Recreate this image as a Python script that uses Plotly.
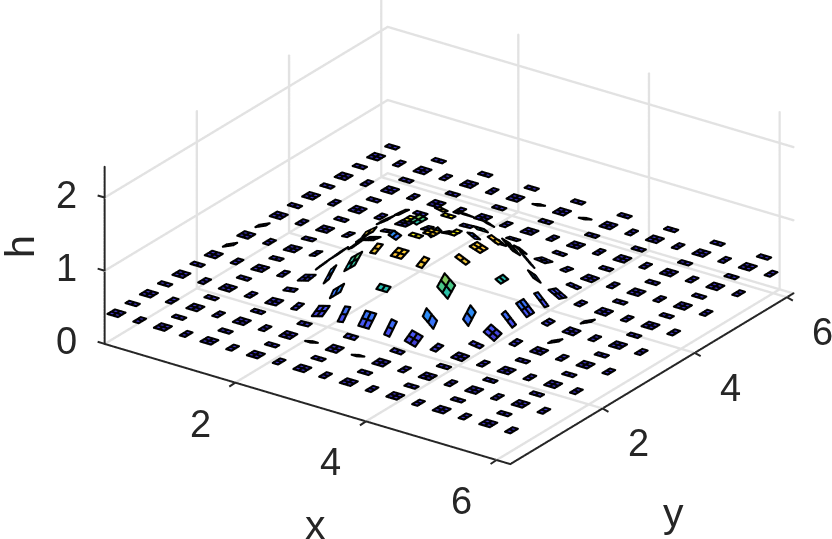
import numpy as np
import plotly.graph_objects as go

# heights: row = index along x, column = index along y
height_table = [
 [.41]*18,
 [.41]*18,
 [.41]*18,
 [.41,.41,.41,.41,.41,.41,.43,.44,.44,.44,.43,.41,.41,.41,.41,.41,.41,.41],
 [.41,.41,.41,.41,.41,.44,.47,.52,.54,.52,.47,.44,.41,.41,.41,.41,.41,.41],
 [.41,.41,.41,.41,.44,.50,.61,.78,.84,.78,.61,.50,.44,.41,.41,.41,.41,.41],
 [.41,.41,.41,.43,.47,.61,.88,1.15,1.18,1.15,.92,.61,.47,.43,.41,.41,.41,.41],
 [.41,.41,.41,.44,.52,.78,1.15,1.27,1.29,1.27,1.15,.78,.52,.44,.41,.41,.41,.41],
 [.41,.41,.41,.44,.54,.84,1.18,1.29,1.20,1.29,1.18,.84,.54,.44,.41,.41,.41,.41],
 [.41,.41,.41,.44,.52,.78,1.15,1.27,1.29,1.27,1.15,.78,.52,.44,.41,.41,.41,.41],
 [.41,.41,.41,.43,.47,.61,.92,1.15,1.18,1.15,.92,.61,.47,.43,.41,.41,.41,.41],
 [.41,.41,.41,.41,.44,.50,.61,.78,.84,.78,.61,.50,.44,.41,.41,.41,.41,.41],
 [.41,.41,.41,.41,.41,.44,.47,.52,.54,.52,.47,.44,.41,.41,.41,.41,.41,.41],
 [.41,.41,.41,.41,.41,.41,.43,.44,.44,.44,.43,.41,.41,.41,.41,.41,.41,.41],
 [.41]*18,
 [.41]*18,
 [.41]*18,
 [.41]*18,
]
# local slopes read from the shape of patches: (ix, iy, dz/dx, dz/dy)
tilted_patches = [(7,2,0,-.4),(9,2,0,-.4),(7,16,0,-.4),(9,16,0,-.4),
                  (14,7,.4,0),(14,9,.4,0),(0,7,.4,0),(0,9,.4,0),
                  (8,4,0,.9),(7,4,.15,.9),(9,4,-.15,.9),
                  (12,8,-.9,0),(12,7,-.9,.15),(12,9,-.9,-.15),
                  (10,5,-.8,1.0),(11,6,-.9,.8),(6,5,.8,1.0),(5,6,1.0,.8),
                  (6,4,.25,.5),(10,4,-.25,.5),(12,6,-.5,.25),(12,10,-.5,-.25),
                  (4,8,.9,0),(4,7,.9,.15),(4,9,.9,-.15),
                  (8,12,0,-.9),(7,12,.15,-.9),(9,12,-.15,-.9),
                  (11,10,-1.0,-.8),(10,11,-.8,-1.0),(6,11,.8,-1.0),(5,10,1.0,-.8),
                  (8,5,0,.5),(11,8,-.5,0),
                  (8,6,0,.3),(10,8,-.3,0),(7,6,.1,.4),(9,6,-.1,.4),(10,7,-.4,.1),(10,9,-.4,-.1)]
x_ticks = [2,4,6]
y_ticks = [2,4,6]
z_ticks = [0,1,2]
x_range = [0,6.21]
y_range = [0,6.14]
z_range = [0,2.42]
parula = [[0,"rgb(62,38,168)"],[1/7,"rgb(72,82,244)"],[2/7,"rgb(46,135,247)"],[3/7,"rgb(18,177,214)"],
          [4/7,"rgb(55,200,151)"],[5/7,"rgb(171,199,57)"],[6/7,"rgb(254,195,56)"],[1,"rgb(249,251,21)"]]
STEP_X, STEP_Y, X0, Y0, W = 0.3557, 0.352, 0.11, 0.10, 0.08

H = np.array(height_table, float)
gx, gy = np.gradient(H, STEP_X, STEP_Y)
tilts = {(a,b):(c,d) for a,b,c,d in tilted_patches}

vx,vy,vz,ii,jj,kk,inten=[],[],[],[],[],[],[]
lx,ly,lz=[],[],[]
NUDGE=np.array([.52,-.742,.4226])*.02
def add_edge(p,q,sp=.012):
    p=np.array(p);q=np.array(q)
    n=max(2,int(np.ceil(np.linalg.norm(p-q)/sp))+1)
    for t in np.linspace(0,1,n):
        m=p+(q-p)*t+NUDGE
        lx.append(m[0]);ly.append(m[1]);lz.append(m[2])
def offs(i):
    return [-W,0,W] if i%2==0 else [-W/2,W/2]
for ix in range(18):
    for iy in range(18):
        if ix%2 and iy%2: continue
        xc=X0+ix*STEP_X; yc=Y0+iy*STEP_Y
        sx,sy=(gx[ix,iy],gy[ix,iy])
        if (ix,iy) in tilts: sx,sy=tilts[(ix,iy)]
        ox,oy=offs(ix),offs(iy)
        def node(a,b): return (xc+a, yc+b, H[ix,iy]+sx*a+sy*b)
        base=len(vx)
        for a in ox:
            for b in oy:
                p=node(a,b); vx.append(p[0]); vy.append(p[1]); vz.append(p[2])
        n=len(oy)
        for p in range(len(ox)-1):
            for q in range(n-1):
                a0=base+p*n+q; a1=a0+n; a2=a1+1; a3=a0+1
                val=(vz[a0]+vz[a1]+vz[a2]+vz[a3])/4
                ii+= [a0,a0]; jj+=[a1,a2]; kk+=[a2,a3]; inten+=[val,val]
        for a in ox:
            add_edge(node(a,oy[0]),node(a,oy[-1]))
        for b in oy:
            add_edge(node(ox[0],b),node(ox[-1],b))

xa,xb=x_range; ya,yb=y_range; za,zb=z_range
def dense(segs,sp=.012):
    X,Y,Z=[],[],[]
    for s in segs:
        for p,q in zip(s[:-1],s[1:]):
            p=np.array(p,float);q=np.array(q,float)
            n=int(np.ceil(np.linalg.norm(p-q)/sp))+1
            for t in np.linspace(0,1,n):
                m=p+(q-p)*t
                X.append(m[0]);Y.append(m[1]);Z.append(m[2])
    return X,Y,Z
gridseg=[]
for t in x_ticks:
    gridseg.append([(t,ya,za),(t,yb,za),(t,yb,zb)])
for t in y_ticks:
    gridseg.append([(xb,t,za),(xa,t,za),(xa,t,zb)])
for t in z_ticks:
    gridseg.append([(xa,ya,t),(xa,yb,t),(xb,yb,t)])
gX,gY,gZ=dense(gridseg)
aX,aY,aZ=dense([[(xa,ya,za),(xb,ya,za),(xb,yb,za)],[(xa,ya,za),(xa,ya,zb)]])

fig=go.Figure()
fig.add_trace(go.Scatter3d(x=gX,y=gY,z=gZ,mode="markers",marker=dict(color="rgb(226,226,226)",size=1.4,line=dict(width=0)),hoverinfo="skip",showlegend=False))
fig.add_trace(go.Scatter3d(x=aX,y=aY,z=aZ,mode="markers",marker=dict(color="rgb(38,38,38)",size=1.2,line=dict(width=0)),hoverinfo="skip",showlegend=False))
fig.add_trace(go.Mesh3d(x=vx,y=vy,z=vz,i=ii,j=jj,k=kk,intensity=inten,intensitymode="cell",
    colorscale=parula,cmin=.36,cmax=1.30,showscale=False,flatshading=True,
    lighting=dict(ambient=1,diffuse=0,specular=0,roughness=1,fresnel=0),hoverinfo="skip"))
fig.add_trace(go.Scatter3d(x=lx,y=ly,z=lz,mode="markers",marker=dict(color="black",size=1.3,line=dict(width=0)),hoverinfo="skip",showlegend=False))

TXT="rgb(38,38,38)"
F=dict(family="Liberation Sans",size=38,color=TXT)
ann=[]
def tick(x,y,z,ax,ay):
    return dict(x=x,y=y,z=z,text=" ",showarrow=True,arrowhead=0,arrowwidth=2,arrowcolor=TXT,standoff=0,ax=ax,ay=ay)
for t in x_ticks:
    ann.append(dict(x=t,y=0,z=0,text=str(t),showarrow=False,font=F,xshift=-35,yshift=-41))
    ann.append(tick(t,0,0,-9,6))
for t in y_ticks:
    ann.append(dict(x=x_range[1],y=t,z=0,text=str(t),showarrow=False,font=F,xshift=36,yshift=-35))
    ann.append(tick(x_range[1],t,0,9,5))
for t in z_ticks:
    ann.append(dict(x=0,y=0,z=t,text=str(t),showarrow=False,font=F,xshift=-38,yshift=3))
    ann.append(tick(0,0,t,-10,-3))
axis=dict(showbackground=False,showgrid=False,showline=False,ticks="",
          showticklabels=False,title=dict(text=""),zeroline=False,showspikes=False)
r=2.0
cx,cy,cz=-.0659,-.1192,-.1335
TF=dict(family="Liberation Sans",size=41,color=TXT)
fig.update_layout(width=832,height=539,margin=dict(l=0,r=0,t=0,b=0),paper_bgcolor="white",
    scene=dict(domain=dict(x=[0,1],y=[0,1]),
        xaxis=dict(axis,range=x_range),
        yaxis=dict(axis,range=y_range),
        zaxis=dict(axis,range=z_range),
        aspectmode="manual",aspectratio=dict(x=1.838,y=1.83,z=.725),
        camera=dict(projection=dict(type="orthographic"),up=dict(x=0,y=0,z=1),
            center=dict(x=cx,y=cy,z=cz),eye=dict(x=cx+r*.52,y=cy-r*.742,z=cz+r*.4226)),
        annotations=ann),
    annotations=[dict(text="x",x=315/832,y=1-525/539,xref="paper",yref="paper",xanchor="center",yanchor="middle",showarrow=False,font=TF),
                 dict(text="y",x=673/832,y=1-513/539,xref="paper",yref="paper",xanchor="center",yanchor="middle",showarrow=False,font=TF),
                 dict(text="h",x=20/832,y=1-247/539,xref="paper",yref="paper",xanchor="center",yanchor="middle",showarrow=False,textangle=-90,font=TF)])
fig.write_html("out.html",config=dict(displayModeBar=False),post_script="document.body.style.margin='0';document.body.style.overflow='hidden';")
